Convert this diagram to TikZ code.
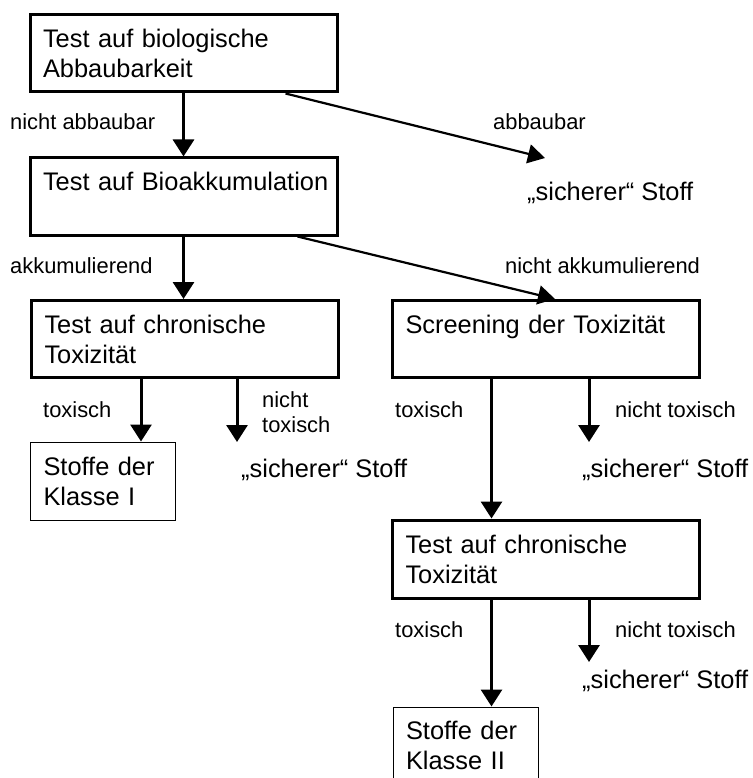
\documentclass[tikz,border=0pt]{standalone}
\usepackage{fontspec}
\setmainfont{Liberation Sans}
\usetikzlibrary{arrows.meta,calc}

\begin{document}
\begin{tikzpicture}[x=1pt, y=-1pt,
  box/.style={draw, line width=3pt, minimum width=307pt, minimum height=77pt,
    text width=281pt, inner xsep=13pt, inner ysep=0pt, align=left,
    font=\fontsize{25.4}{30}\selectfont},
  klasse/.style={draw, line width=1pt, minimum width=145pt, minimum height=78pt,
    text width=119pt, inner xsep=13pt, inner ysep=0pt, align=left,
    font=\fontsize{25.4}{30}\selectfont},
  lbl/.style={anchor=base west, inner sep=0pt, align=left,
    font=\fontsize{21.9}{25}\selectfont},
  stoff/.style={anchor=base west, inner sep=0pt, font=\fontsize{25.4}{30}\selectfont},
  pfeil/.style={line width=3pt, -{Triangle[width=21pt,length=17pt]}},
  schraeg/.style={line width=2.2pt, -{Triangle[width=19pt,length=17pt]}}]

\useasboundingbox (0,0) rectangle (752,778);

% Kaestchen
\node[box] (bio) at (183.5,53.5) {Test auf biologische\\Abbaubarkeit};
\node[box] (akk) at (183.5,196.5) {\mbox{Test auf Bioakkumulation}\\\mbox{}};
\node[box] (chron1) at (185,339) {Test auf chronische\\Toxizität};
\node[box] (screen) at (546,339) {Screening der Toxizität\\\mbox{}};
\node[box, minimum height=78pt] (chron2) at (546,559) {Test auf chronische\\Toxizität};
\node[klasse] (kl1) at (103,481) {Stoffe der\\Klasse I};
\node[klasse, minimum height=76pt] (kl2) at (465.5,745) {Stoffe der\\Klasse II};

% Ergebnisse
\node[stoff] (sich1) at (527,200) {„sicherer“ Stoff};
\node[stoff] (sich2) at (241,477) {„sicherer“ Stoff};
\node[stoff] (sich3) at (582,477) {„sicherer“ Stoff};
\node[stoff] (sich4) at (582,688) {„sicherer“ Stoff};

\coordinate (e1) at (545,158);
\coordinate (e2) at (237,442);
\coordinate (e3) at (589,442);
\coordinate (e4) at (589,662);

% Pfeile
\draw[pfeil] (bio) -- (akk);
\draw[schraeg] ($(bio.south)+(102,0)$) -- (e1);
\draw[pfeil] (akk.south) -- (akk.south |- chron1.north);
\draw[schraeg] ($(akk.south)+(114,0)$) -- ($(screen.north)+(9,0)$);
\draw[pfeil] (chron1.south -| kl1.north east) ++(-35,0) coordinate (t1) -- (t1 |- kl1.north);
\draw[pfeil] (chron1.south -| e2) -- (e2);
\draw[pfeil] (screen.south -| kl2.north east) ++(-47,0) coordinate (t2) -- (t2 |- chron2.north);
\draw[pfeil] (screen.south -| e3) -- (e3);
\draw[pfeil] (t2 |- chron2.south) -- (t2 |- kl2.north);
\draw[pfeil] (chron2.south -| e4) -- (e4);

% Beschriftungen
\node[lbl] (l1) at (10,130) {nicht abbaubar};
\node[lbl] (l2) at (493,130) {abbaubar};
\node[lbl] (l3) at (10,273) {akkumulierend};
\node[lbl] (l4) at (505,273) {nicht akkumulierend};
\node[lbl] (l5) at (43,417) {toxisch};
\node[lbl] (l6) at (262,432) {nicht\\toxisch};
\node[lbl] (l7) at (395,417) {toxisch};
\node[lbl] (l8) at (615,417) {nicht toxisch};
\node[lbl] (l9) at (395,637) {toxisch};
\node[lbl] (l10) at (615,637) {nicht toxisch};
\end{tikzpicture}
\end{document}
